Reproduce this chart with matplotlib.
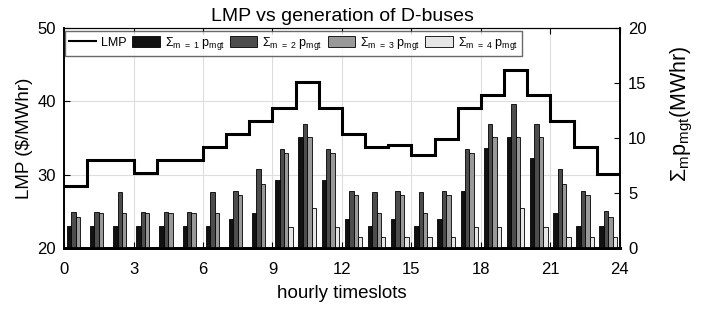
import numpy as np
import matplotlib.pyplot as plt
from matplotlib.patches import Patch
from matplotlib.lines import Line2D

plt.rcParams.update({
    "font.family": ["Liberation Sans", "DejaVu Sans"],
    "font.size": 11,
    "mathtext.fontset": "custom",
    "mathtext.rm": "Liberation Sans",
    "mathtext.it": "Liberation Sans",
})

hours = np.arange(24)

# LMP in $/MWhr, one value per hourly timeslot
lmp = [28.5, 32.0, 32.0, 30.2, 32.0, 32.0, 33.8, 35.6, 37.3, 39.1, 42.6, 39.1,
       35.6, 33.8, 34.1, 32.7, 34.9, 39.1, 40.8, 44.3, 40.8, 37.3, 33.7, 30.1]

# generation of D-buses (MWhr)
gen_m1 = [2.0, 2.0, 2.0, 2.0, 2.0, 2.0, 2.0, 2.6, 3.2, 6.2, 10.1, 6.2,
          2.6, 2.0, 2.6, 2.0, 2.6, 5.2, 9.1, 10.1, 8.2, 3.2, 2.0, 2.0]
gen_m2 = [3.3, 3.3, 5.05, 3.3, 3.3, 3.3, 5.05, 5.2, 7.2, 9.0, 11.3, 9.0,
          5.2, 5.05, 5.2, 5.05, 5.2, 9.0, 11.3, 13.1, 11.3, 7.2, 5.2, 3.35]
gen_m3 = [2.8, 3.15, 3.2, 3.15, 3.15, 3.15, 3.2, 4.85, 5.8, 8.6, 10.05, 8.6,
          4.85, 3.2, 4.85, 3.2, 4.85, 8.6, 10.05, 10.05, 10.05, 5.8, 4.85, 2.8]
gen_m4 = [0, 0, 0, 0, 0, 0, 0, 0, 0, 1.9, 3.6, 1.9,
          1.0, 1.0, 1.0, 1.0, 1.0, 1.9, 1.9, 3.6, 1.9, 1.0, 1.0, 1.0]

gens = [gen_m1, gen_m2, gen_m3, gen_m4]
colors = ["#111111", "#4d4d4d", "#999999", "#e6e6e6"]
labels = [r"$\Sigma_{\mathrm{m\ =\ %d}}\ \mathrm{p}_{\mathrm{mgt}}$" % (i + 1) for i in range(4)]

fig = plt.figure(figsize=(7.09, 3.09), dpi=100)
ax = fig.add_axes([0.0903, 0.198, 0.784, 0.711])
ax2 = ax.twinx()

# -------- LMP step line --------
ax.stairs(lmp, np.arange(25), color="black", linewidth=2.2, baseline=None)
ax.set_xlim(0, 24)
ax.set_ylim(20, 50)
ax.set_xticks(np.arange(0, 25, 3))
ax.set_yticks([20, 30, 40, 50])
ax.grid(True, color="#dddddd", linewidth=0.8)
ax.set_axisbelow(True)
ax.set_xlabel("hourly timeslots", fontsize=13.5, labelpad=6)
ax.set_ylabel("LMP ($/MWhr)", fontsize=13.5, labelpad=3)
ax.set_title("LMP vs generation of D-buses", fontsize=14, pad=5)

# -------- grouped bars --------
w = 0.19
for i, (g, c) in enumerate(zip(gens, colors)):
    ax2.bar(hours + 0.5 + (i - 1.5) * w, g, width=w, color=c,
            edgecolor="black", linewidth=0.6)
ax2.set_ylim(0, 20)
ax2.set_yticks([0, 5, 10, 15, 20])
ax2.set_ylabel(r"$\Sigma_{\mathrm{m}}\mathrm{p}_{\mathrm{mgt}}$(MWhr)", fontsize=15.5)
ax2.yaxis.set_label_coords(1.088, 0.61)

ax.tick_params(axis="x", direction="in", length=4, labelsize=12, pad=10, top=True)
ax.tick_params(axis="y", direction="in", length=4, labelsize=12, pad=6)
ax2.tick_params(axis="y", direction="in", length=4, labelsize=12, pad=6)
for a in (ax, ax2):
    for s in ("left", "right"):
        a.spines[s].set_linewidth(1.2)
    a.spines["top"].set_linewidth(0.8)
ax.spines["bottom"].set_linewidth(2)
ax2.spines["bottom"].set_linewidth(2)

handles = [Line2D([], [], color="black", linewidth=1.5)]
handles += [Patch(facecolor=c, edgecolor="black", linewidth=0.6) for c in colors]
leg = ax2.legend(handles, ["LMP"] + labels, ncol=5, loc="upper left",
                 bbox_to_anchor=(0.002, 0.985), fontsize=9, frameon=True,
                 fancybox=False, edgecolor="#444444", handlelength=2.2,
                 handleheight=1.0, columnspacing=0.4, handletextpad=0.4,
                 borderpad=0.3, borderaxespad=0.0)
leg.get_frame().set_linewidth(1.0)

fig.savefig("out.png", dpi=100)
